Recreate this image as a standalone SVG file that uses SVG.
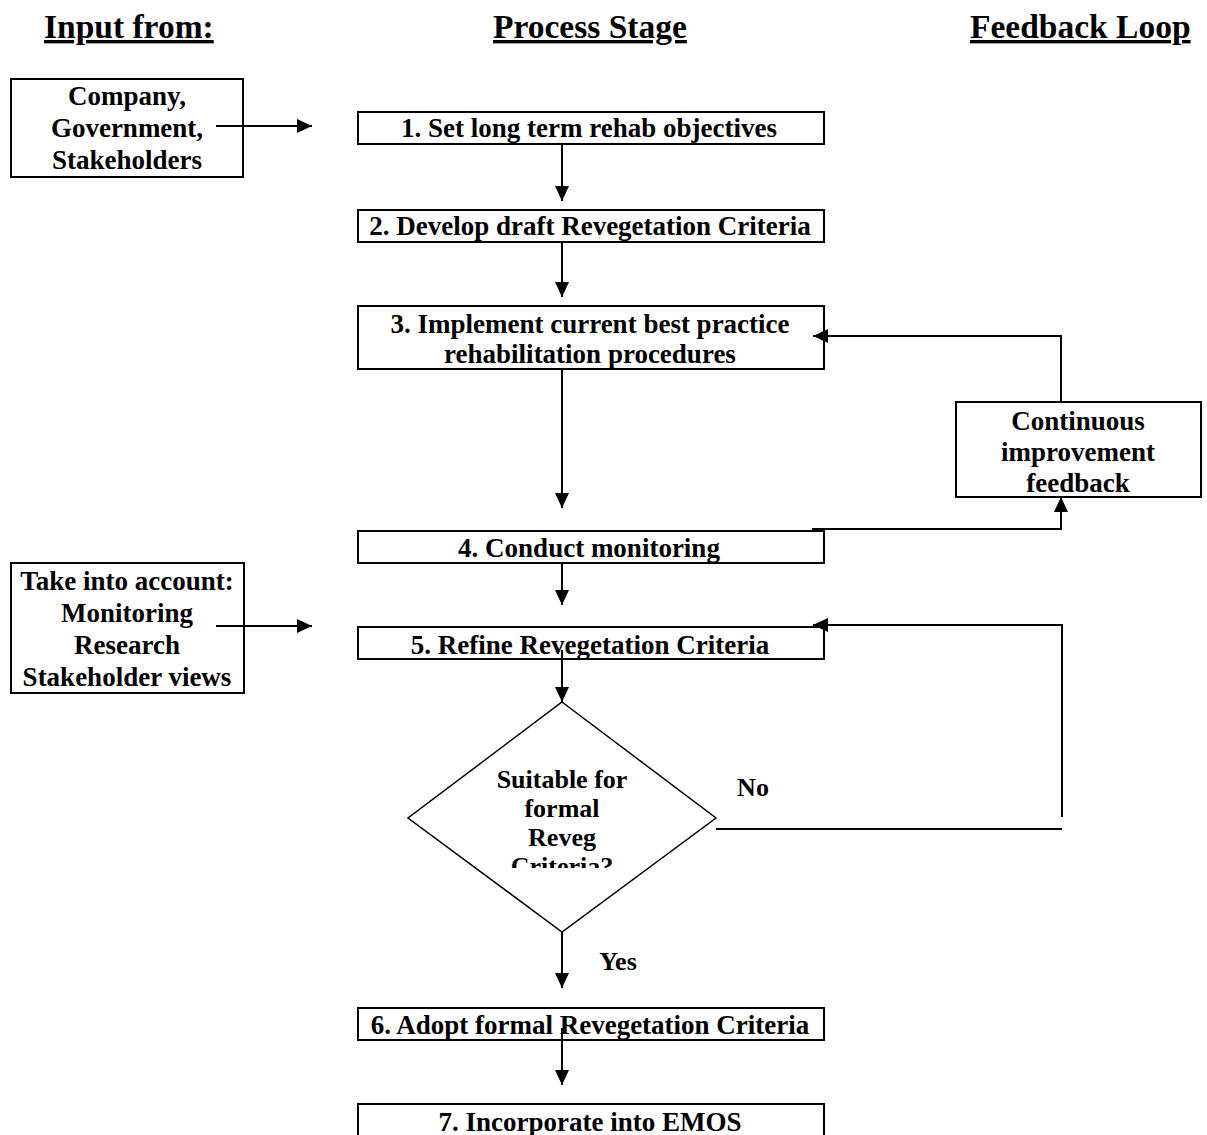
<svg xmlns="http://www.w3.org/2000/svg" width="1207" height="1135" viewBox="0 0 1207 1135">
  <style>
    .hdr { font-family: "Liberation Serif", "Times New Roman", serif; font-weight: bold; font-size: 33.5px; text-decoration: underline; fill: #000; }
    .t { font-family: "Liberation Serif", "Times New Roman", serif; font-weight: bold; font-size: 27px; fill: #000; text-anchor: middle; }
    .tl { font-family: "Liberation Serif", "Times New Roman", serif; font-weight: bold; font-size: 27px; fill: #000; text-anchor: middle; }
    .dt { font-family: "Liberation Serif", "Times New Roman", serif; font-weight: bold; font-size: 26px; fill: #000; text-anchor: middle; }
    .lbl { font-family: "Liberation Serif", "Times New Roman", serif; font-weight: bold; font-size: 26px; fill: #000; text-anchor: middle; }
    .box { fill: #fff; stroke: #000; stroke-width: 2; }
    .dia { fill: #fff; stroke: #000; stroke-width: 1.5; }
    .c { fill: none; stroke: #000; stroke-width: 2; }
    .ca { fill: none; stroke: #000; stroke-width: 2; marker-end: url(#ah); }
  </style>
  <defs>
    <marker id="ah" markerUnits="userSpaceOnUse" markerWidth="15" markerHeight="14" viewBox="0 0 15 14" refX="15" refY="7" orient="auto">
      <path d="M0,0 L15,7 L0,14 z" fill="#000"/>
    </marker>
    <clipPath id="dclip">
      <rect x="420" y="750" width="290" height="118"/>
    </clipPath>
  </defs>
  <rect width="1207" height="1135" fill="#fff"/>

  <g id="headers">
    <text class="hdr" x="44" y="38">Input from:</text>
    <text class="hdr" x="493" y="38">Process Stage</text>
    <text class="hdr" x="970" y="38">Feedback Loop</text>
  </g>

  <g id="input1">
    <rect class="box" x="11" y="79" width="232" height="98"/>
    <text class="tl" x="127" y="105">Company,</text>
    <text class="tl" x="127" y="137">Government,</text>
    <text class="tl" x="127" y="169">Stakeholders</text>
  </g>

  <g id="input2">
    <rect class="box" x="11" y="563" width="233" height="130"/>
    <text class="tl" x="127" y="590">Take into account:</text>
    <text class="tl" x="127" y="622">Monitoring</text>
    <text class="tl" x="127" y="654">Research</text>
    <text class="tl" x="127" y="686">Stakeholder views</text>
  </g>

  <g id="feedback">
    <rect class="box" x="956" y="402" width="245" height="95"/>
    <text class="t" x="1078" y="430">Continuous</text>
    <text class="t" x="1078" y="461">improvement</text>
    <text class="t" x="1078" y="492">feedback</text>
  </g>

  <g id="step1">
    <rect class="box" x="358" y="112" width="466" height="32"/>
    <text class="t" x="589" y="137">1. Set long term rehab objectives</text>
  </g>
  <g id="step2">
    <rect class="box" x="358" y="210" width="466" height="32"/>
    <text class="t" x="590" y="235">2. Develop draft Revegetation Criteria</text>
  </g>
  <g id="step3">
    <rect class="box" x="358" y="306" width="466" height="63"/>
    <text class="t" x="590" y="333">3. Implement current best practice</text>
    <text class="t" x="590" y="363">rehabilitation procedures</text>
  </g>
  <g id="step4">
    <rect class="box" x="358" y="531" width="466" height="32"/>
    <text class="t" x="589" y="557">4. Conduct monitoring</text>
  </g>
  <g id="step5">
    <rect class="box" x="358" y="627" width="466" height="32"/>
    <text class="t" x="590" y="654">5. Refine Revegetation Criteria</text>
  </g>
  <g id="decision">
    <polygon class="dia" points="562,702 716,818 562,932 408,818"/>
    <g clip-path="url(#dclip)">
      <text class="dt" x="562" y="788">Suitable for</text>
      <text class="dt" x="562" y="817">formal</text>
      <text class="dt" x="562" y="846">Reveg</text>
      <text class="dt" x="562" y="875">Criteria?</text>
    </g>
  </g>
  <g id="step6">
    <rect class="box" x="358" y="1008" width="466" height="32"/>
    <text class="t" x="590" y="1034">6. Adopt formal Revegetation Criteria</text>
  </g>
  <g id="step7">
    <rect class="box" x="358" y="1104" width="466" height="40"/>
    <text class="t" x="590" y="1131">7. Incorporate into EMOS</text>
  </g>

  <g id="connectors">
    <line class="ca" x1="216" y1="126" x2="312" y2="126"/>
    <line class="ca" x1="216" y1="626" x2="312" y2="626"/>
    <line class="ca" x1="562" y1="144" x2="562" y2="201"/>
    <line class="ca" x1="562" y1="242" x2="562" y2="297"/>
    <line class="ca" x1="562" y1="369" x2="562" y2="508"/>
    <line class="ca" x1="562" y1="563" x2="562" y2="605"/>
    <line class="ca" x1="562" y1="650" x2="562" y2="702"/>
    <line class="ca" x1="562" y1="932" x2="562" y2="988"/>
    <line class="ca" x1="562" y1="1028" x2="562" y2="1085"/>
    <polyline class="ca" points="812,529 1061,529 1061,497"/>
    <polyline class="ca" points="1061,402 1061,336 813,336"/>
    <line class="c" x1="716" y1="829" x2="1062" y2="829"/>
    <polyline class="ca" points="1062,817 1062,625 813,625"/>
    <text class="lbl" x="753" y="796">No</text>
    <text class="lbl" x="618" y="970">Yes</text>
  </g>
</svg>
